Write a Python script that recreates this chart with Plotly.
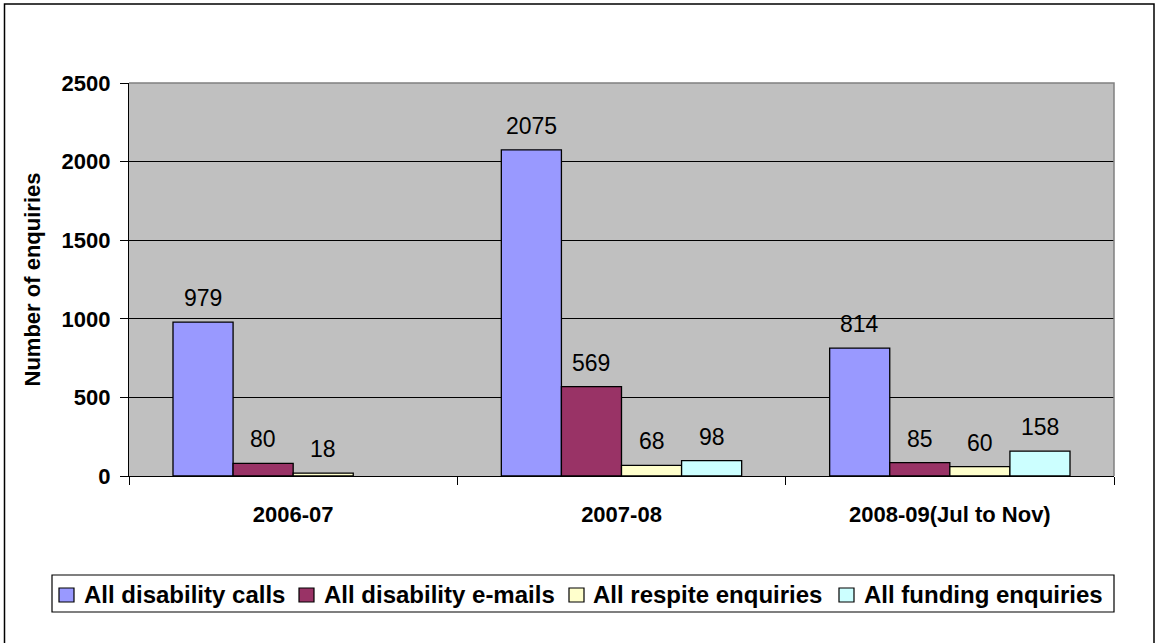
import plotly.graph_objects as go

categories = ["2006-07", "2007-08", "2008-09(Jul to Nov)"]
series_names = ["All disability calls", "All disability e-mails",
                "All respite enquiries", "All funding enquiries"]
calls = [979, 2075, 814]
emails = [80, 569, 85]
respite = [18, 68, 60]
funding = [None, 98, 158]
y_ticks = [0, 500, 1000, 1500, 2000, 2500]

series_values = [calls, emails, respite, funding]
colors = ["#9999FF", "#993366", "#FFFFCC", "#CCFFFF"]

W, H = 1159, 643
L, R, T, B = 129, 45, 83, 167
pw, ph = W - L - R, H - T - B
FONT = "Liberation Sans, Arial"


def px_x(x):
    return (x - L) / pw


def px_y(y):
    return (H - B - y) / ph


fig = go.Figure()
for name, vals, col in zip(series_names, series_values, colors):
    fig.add_trace(go.Bar(
        x=categories, y=vals, name=name, showlegend=False,
        marker=dict(color=col, line=dict(color="black", width=1.3)),
    ))

# data labels above bars
bar_px = pw / len(categories) * (1 - 0.268) / len(series_names)
for i, vals in enumerate(series_values):
    shift = (i - (len(series_values) - 1) / 2) * bar_px
    for c, v in zip(categories, vals):
        if v is None:
            continue
        fig.add_annotation(
            x=c, y=v, text=str(v), showarrow=False,
            xshift=shift, yshift=9, yanchor="bottom",
            font=dict(family=FONT, size=23, color="black"),
        )

# plot-area top/right border (gray)
fig.add_shape(type="path", xref="paper", yref="paper",
              path="M 0,1 L 1,1 L 1,0", line=dict(color="#808080", width=1.5),
              layer="above")
# outer chart frame
fig.add_shape(type="rect", xref="paper", yref="paper",
              x0=px_x(4.5), x1=px_x(1154), y0=px_y(H + 5), y1=px_y(4),
              line=dict(color="black", width=1.5), layer="above")

# manual legend (box, swatches, labels)
fig.add_shape(type="rect", xref="paper", yref="paper",
              x0=px_x(52), x1=px_x(1114), y0=px_y(612), y1=px_y(575),
              line=dict(color="black", width=1.2), fillcolor="white",
              layer="above")
swatch_x = [59, 299, 569, 839]
text_x = [82, 322, 591, 862]
for name, col, sx, tx in zip(series_names, colors, swatch_x, text_x):
    fig.add_shape(type="rect", xref="paper", yref="paper",
                  x0=px_x(sx), x1=px_x(sx + 15), y0=px_y(602), y1=px_y(588),
                  line=dict(color="black", width=1.2), fillcolor=col,
                  layer="above")
    fig.add_annotation(
        xref="paper", yref="paper", x=px_x(tx), y=px_y(594.5),
        xanchor="left", yanchor="middle", showarrow=False, text=name,
        font=dict(family=FONT, size=24, weight="bold", color="black"),
    )

fig.update_layout(
    width=W, height=H,
    margin=dict(l=L, r=R, t=T, b=B),
    paper_bgcolor="white", plot_bgcolor="#C0C0C0",
    barmode="group", bargap=0.268, bargroupgap=0,
    font=dict(family=FONT, color="black"),
    showlegend=False,
    xaxis=dict(
        type="category",
        showline=True, linecolor="black", linewidth=1.3,
        ticks="outside", tickson="boundaries", ticklen=8, tickcolor="black",
        tickfont=dict(size=22, weight="bold"), ticklabelstandoff=18,
        showgrid=False,
    ),
    yaxis=dict(
        range=[0, 2500], tickvals=y_ticks,
        showline=True, linecolor="black", linewidth=1.3,
        ticks="outside", ticklen=8, tickcolor="black",
        tickfont=dict(size=22, weight="bold"), ticklabelstandoff=5,
        showgrid=True, gridcolor="black", gridwidth=1,
        zeroline=False,
        title=dict(text="Number of enquiries", standoff=14,
                   font=dict(size=22, weight="bold")),
    ),
)

fig.write_html("out.html")
